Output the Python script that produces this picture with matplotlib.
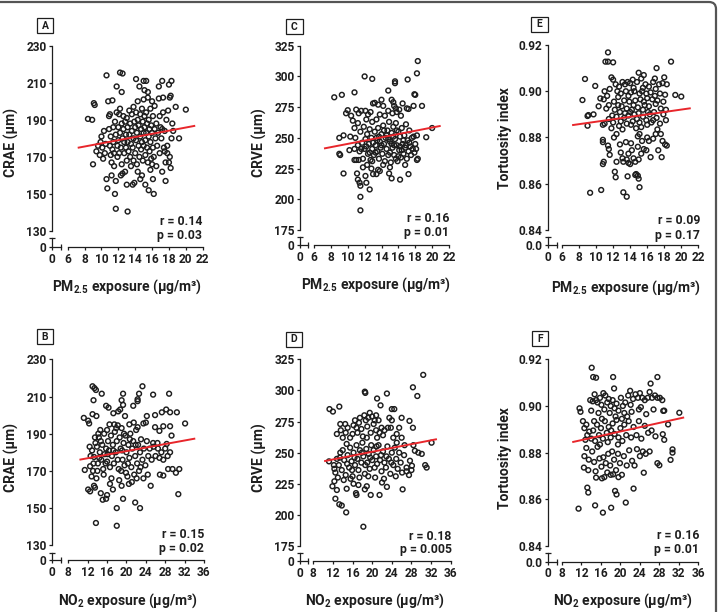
import numpy as np
import matplotlib.pyplot as plt
from matplotlib.patches import Rectangle, FancyBboxPatch
from matplotlib.transforms import IdentityTransform

FONT = "Roboto"
plt.rcParams["font.family"] = [FONT, "DejaVu Sans"]
plt.rcParams["font.weight"] = "bold"
plt.rcParams["mathtext.fontset"] = "custom"
plt.rcParams["mathtext.rm"] = FONT + ":bold"
plt.rcParams["mathtext.bf"] = FONT + ":bold"
plt.rcParams["mathtext.it"] = FONT + ":bold"
plt.rcParams["mathtext.default"] = "bf"

#%% Data
# (PM2.5 exposure, CRAE)
pm25_crae = [(8.4,190.5),(8.9,190),(9.1,199),(9.2,198),(9.0,166),(9.4,173),(9.6,176),(9.8,171),
    (9.9,178),(10.0,181),(10.1,175),(10.3,184),(10.4,172),(10.5,177),(10.6,214),(10.6,158),(10.7,153),(10.2,169),
    (10.8,200),(10.9,185),(10.9,192),(11.0,193),(11.0,176),(11.1,171),(11.1,181),(11.2,167),(11.2,160),(11.3,200.5),
    (11.3,174),(11.4,186),(11.4,178),(11.5,165),(11.5,172),(11.6,150),(11.6,189),(11.7,142),(11.7,157),(11.7,182),
    (11.8,208),(11.8,194),(11.9,176),(11.9,170),(12.0,186),(12.0,179),(12.1,193),(12.1,172),(12.2,215.5),(12.2,196),
    (12.2,183),(12.3,160),(12.3,175),(12.4,205),(12.4,188),(12.4,166),(12.5,215),(12.5,180),(12.5,161),
    (12.6,192),(12.6,185),(12.7,178),(12.7,172),(12.8,162),(12.8,189),(12.9,182),(12.9,175),(13.0,155),(13.0,191),
    (13.0,168),(13.1,140.5),(13.1,186),(13.1,178),(13.2,173),(13.3,195),(13.3,182),(13.4,170),(13.4,188),(13.5,177),
    (13.5,165),(13.6,193),(13.6,184),(13.7,155),(13.7,175),(13.8,197),(13.8,180),(13.8,168),(13.9,156),(13.9,189),
    (14.0,186),(14.0,172),(14.1,212),(14.1,194),(14.1,179),(14.2,183),(14.2,166),(14.3,200),(14.3,162),(14.3,190),
    (14.4,176),(14.4,187),(14.5,208),(14.5,170),(14.6,158),(14.6,193),(14.6,181),(14.7,185),(14.7,174),(14.8,160),
    (14.8,196),(14.8,178),(14.9,189),(14.9,168),(15.0,211),(15.0,201),(15.0,183),(15.0,176),(15.1,206),(15.1,192),
    (15.1,186),(15.2,155),(15.2,179),(15.2,171),(15.3,211),(15.3,194),(15.3,183),(15.4,188),(15.4,175),(15.5,205),
    (15.5,202),(15.5,167),(15.6,152),(15.6,190),(15.6,181),(15.7,185),(15.7,173),(15.8,163),(15.8,196),(15.8,178),
    (15.9,169),(15.9,187),(16.0,200),(16.0,183),(16.0,166),(16.1,158),(16.1,192),(16.1,175),(16.2,150),(16.2,170),
    (16.3,197.5),(16.3,185),(16.4,180),(16.5,165),(16.5,188),(16.6,176),(16.7,183),(16.8,208),(16.8,201.5),(16.9,192),
    (16.9,172),(17.0,186),(17.1,180),(17.2,211),(17.2,162),(17.2,185),(17.3,202),(17.3,194),(17.4,175),(17.5,184),
    (17.5,173),(17.6,167),(17.6,157),(17.7,190),(17.8,176),(17.8,172),(17.9,195),(18.0,209),(18.0,167),(18.1,170),
    (18.1,202),(18.2,203),(18.2,164),(18.3,211),(18.3,180),(18.4,188),(18.5,184),(18.8,197),(19.2,180),(20.0,195.5)]

# (PM2.5 exposure, CRVE)
pm25_crve = [(18.3,312.5),(18.2,302.5),(12.0,300),(12.9,298),(17.1,297.5),(15.6,294.5),(15.6,296),(14.8,288.5),
    (10.8,287),(8.4,283),(9.3,285),(17.9,285.5),(18.0,285),(18.8,276),(17.8,276),
    (9.8,270),(10.0,272.5),(10.4,268),(11.0,273),(11.3,270),(11.6,272),(12.1,272),(12.4,269),(12.7,271),(13.0,278),
    (13.2,278.5),(13.6,277),(14.0,281),(14.2,276),(14.4,268),(14.8,272),(15.2,281),(15.4,279),(15.5,276),(15.7,274),
    (15.8,271),(16.1,273),(16.5,278),(17.0,274),(17.2,273.5),(15.3,270),(16.3,268),(13.8,269),(11.2,262),(10.8,258),
    (10.6,264),(12.2,265),(12.9,263),(13.4,265),
    (9.0,250),(9.5,252),(10.3,251),(10.8,241),(10.9,250),(11.0,232),(11.2,244),(11.4,239),(11.5,255),(11.7,246),
    (11.8,233),(11.9,259),(12.0,241),(12.1,249),(12.3,253),(12.4,237),(12.5,245),(12.6,257),(12.7,232),(12.8,250),
    (12.9,241),(13.0,246),(13.1,236),(13.2,255),(13.3,244),(13.4,250),(13.5,239),(13.6,258),(13.7,233),(13.8,247),
    (13.9,242),(14.0,253),(14.1,237),(14.2,260),(14.3,245),(14.4,231),(14.5,250),(14.6,241),(14.7,256),(14.8,236),
    (14.9,263),(15.0,247),(15.1,230),(15.2,254),(15.3,242),(15.4,259),(15.5,236),(15.6,249),(15.7,262),(15.8,244),
    (15.9,231),(16.0,255),(16.1,240),(16.2,251),(16.3,234),(16.4,258),(16.5,245),(16.6,237),(16.7,252),(16.8,242),
    (16.9,261),(17.0,233),(17.1,248),(17.2,239),(17.3,256),(17.4,243),(17.5,236),(17.6,250),(17.7,241),(17.8,251),
    (17.9,238),(18.0,245),(18.2,252),(18.3,233),(18.1,241),(19.3,250.5),(20.0,258),(9.0,237),(9.1,236),
    (12.2,243),(13.5,248),(14.0,244),(14.6,252),(15.0,238),(15.2,245),(15.8,256),(16.2,243),(16.6,248),(13.3,238),
    (12.6,238),(14.8,249),(15.5,244),(16.0,235),(16.9,244),(17.3,246),(14.3,256),(13.7,251),(15.4,251),(16.4,240),
    (11.6,241),(11.3,232),(10.8,232),(10.2,240),(12.9,231),(15.7,233),
    (9.5,221),(11.1,221),(11.2,216),(11.4,213.5),(11.5,211),(11.5,202),(11.5,191),(12.1,219),(12.2,213.5),(12.6,208),
    (12.8,225),(13.0,220.5),(13.4,220.5),(13.6,224),(13.8,223),(14.9,221),(15.2,217),(16.2,216),(17.2,220.5),
    (18.2,232),(11.8,226),(12.3,228),(14.2,228),(15.0,226),(16.8,228)]

# (PM2.5 exposure, tortuosity index)
pm25_tort = [(11.4,0.9168),(11.1,0.9128),(11.4,0.9128),(12.0,0.9125),(18.8,0.9128),(8.7,0.9053),(8.4,0.8962),
    (9.9,0.9023),(10.5,0.8969),(19.3,0.8984),(20.0,0.8977),(9.0,0.8893),(9.1,0.8897),(9.7,0.890),(9.0,0.8851),
    (9.3,0.8561),(10.6,0.8573),(13.2,0.8563),(13.6,0.8544),(15.1,0.8585),(12.2,0.8652),(12.3,0.8628),(13.7,0.8632),
    (14.7,0.8642),(14.9,0.8635),(15.0,0.8622),(14.6,0.8638),
    (11.8,0.906),(12.0,0.905),(15.0,0.908),(17.1,0.910),(15.6,0.907),(12.3,0.903),(12.7,0.902),(13.1,0.904),
    (13.4,0.903),(13.7,0.904),(14.0,0.9035),(14.3,0.905),(14.8,0.904),(15.3,0.9055),(15.8,0.903),(16.2,0.902),
    (16.7,0.904),(17.0,0.901),(17.4,0.903),(17.8,0.9035),(18.0,0.906),(18.3,0.903),(11.0,0.900),(11.3,0.898),
    (11.6,0.901),(12.5,0.900),(12.9,0.899),(13.5,0.900),(14.1,0.8995),(14.5,0.900),(15.1,0.899),(15.4,0.900),
    (15.9,0.899),(16.4,0.8995),(16.9,0.898),(17.5,0.899),(18.1,0.8985),(10.9,0.8965),(11.5,0.894),(12.1,0.8955),
    (12.6,0.894),(13.3,0.896),(13.9,0.8955),(14.6,0.896),(15.2,0.8965),(15.6,0.8955),(16.0,0.897),(16.6,0.8965),
    (17.2,0.896),(17.9,0.8955),(12.2,0.892),(12.8,0.891),(13.6,0.8925),(14.2,0.892),(14.9,0.893),(15.5,0.892),
    (16.2,0.8935),(16.8,0.891),(17.6,0.8925),(18.2,0.892),(11.2,0.8925),(10.3,0.8935),
    (11.5,0.888),(11.9,0.8895),(12.4,0.889),(12.9,0.887),(13.3,0.8885),(13.8,0.8895),(14.3,0.887),(14.5,0.890),
    (14.8,0.888),(15.1,0.8865),(15.5,0.889),(15.9,0.8875),(16.3,0.890),(16.7,0.8875),(17.1,0.8885),(17.5,0.886),
    (17.9,0.890),(18.2,0.8875),(10.8,0.8855),(11.0,0.886),(12.7,0.885),(13.6,0.886),(14.1,0.8855),(15.3,0.8845),
    (16.0,0.8855),(16.5,0.8865),(17.2,0.8835),(14.7,0.884),(13.1,0.8835),(11.8,0.884),
    (10.8,0.879),(10.8,0.878),(11.4,0.8765),(11.5,0.875),(11.6,0.8725),(10.9,0.8695),(10.8,0.8685),(12.1,0.880),
    (12.4,0.8815),(12.8,0.877),(12.9,0.8735),(13.1,0.871),(13.2,0.8695),(13.5,0.878),(13.6,0.8705),(13.8,0.873),
    (13.8,0.869),(14.1,0.8775),(14.2,0.8745),(14.4,0.871),(14.6,0.8695),(14.9,0.876),(15.1,0.8815),(15.3,0.873),
    (15.6,0.875),(15.9,0.8745),(16.0,0.880),(16.2,0.8785),(16.4,0.8715),(16.7,0.8795),(17.0,0.8815),(17.3,0.8745),
    (17.6,0.8815),(17.8,0.8785),(18.1,0.877),(18.3,0.8765),(17.7,0.8715),(12.4,0.8695),(14.0,0.8685),(15.0,0.8705),
    (12.6,0.8975),(13.0,0.8935),(13.8,0.898),(14.4,0.894),(15.7,0.894),(16.1,0.891),(17.0,0.8945),(14.0,0.891),
    (15.0,0.8905),(13.4,0.8905),(16.9,0.9055),(15.5,0.9015),(14.4,0.9015),(12.0,0.8865),(14.9,0.8805),(15.4,0.8785)]

# (NO2 exposure, CRAE)
no2_crae = [(13.0,215.5),(13.4,214.5),(13.7,213.5),(23.3,215.5),(14.9,211.5),(19.3,211.5),(22.6,211.5),(25.5,211),
    (28.8,211.5),(22.3,208.5),(22.3,207.5),(13.2,208),(19.0,208),(19.3,205.5),(15.8,205),(16.3,204),(21.4,205),
    (11.2,198.5),(12.1,197),(12.3,195.5),(13.0,200.5),(13.8,199.5),(17.3,201),(18.3,202),(18.7,203),(19.7,199.5),
    (24.2,199.5),(25.9,200),(27.3,201.5),(28.2,203),(29.0,201.5),(30.4,201.5),(32.1,195.5),(27.6,194),(29.3,189),
    (29.0,194),(25.9,193.5),(24.0,196),(23.5,195.5),(21.5,196),(20.6,195),(17.5,195),(18.2,194.5),(16.0,192),
    (14.6,192),(14.2,190),(22.3,193.5),(26.8,191.5),(28.3,184.5),(26.5,182),(25.5,185),
    (12.6,178),(12.9,181),(13.3,177.5),(13.6,185),(13.9,183),(14.1,174),(14.3,188),(14.5,180),(14.8,176),(15.0,184),
    (15.2,171),(15.4,190),(15.5,179),(15.8,182),(16.0,175),(16.2,186),(16.4,181),(16.6,172),(16.8,189),(17.0,178),
    (17.2,184),(17.4,174),(17.6,191),(17.8,180),(18.0,186),(18.2,176),(18.4,171),(18.6,188),(18.8,182),(19.0,193),
    (19.2,176),(19.4,185),(19.6,173),(19.8,189),(20.0,180),(20.2,167),(20.4,184),(20.6,177),(20.8,190),(21.0,172),
    (21.2,182),(21.4,186),(21.6,168),(21.8,178),(22.0,192),(22.2,174),(22.4,184),(22.6,170),(22.8,180),(23.0,187),
    (23.3,176),(23.6,182),(23.9,173),(24.2,186),(24.5,178),(24.8,182),(25.2,176),(25.6,183),(26.0,178),(26.4,185),
    (26.8,177),(27.2,180),(27.6,176),(28.0,182),(28.5,178),(29.0,180),(29.5,171),(15.3,168),(16.9,166),(18.5,165),
    (19.9,169),(21.1,164),(22.1,166),(23.5,166),(14.0,170),(12.8,167),(13.1,170),(14.7,186),(16.5,195),(17.9,193),
    (19.5,190),(20.7,187),(13.5,188),(12.4,183),(15.7,174),(18.9,170),(20.3,174),(17.3,181),(16.1,179),(14.4,177),
    (13.2,174),(19.1,181),(21.9,184),(22.9,172),
    (11.4,170.5),(12.5,172.5),(12.1,160),(12.5,159),(13.3,162),(13.5,161),(13.8,166),(15.1,154.5),(15.8,155),
    (16.0,157),(18.0,150),(19.3,155),(21.8,153),(22.8,150),(25.0,162),(30.2,169),(30.7,157.5),(30.9,171),
    (13.7,142),(18.0,140.5),(26.9,168),(27.6,167.5),(28.6,171),(17.2,160),(19.0,162),(20.5,163),(24.4,168),
    (16.6,163),(14.7,158)]

# (NO2 exposure, CRVE)
no2_crve = [(30.4,312.5),(28.3,302.5),(29.2,295.5),(18.5,299),(18.6,298),(23.0,297.5),(21.0,293.5),(24.0,285),
    (24.5,285),(21.7,288),(26.0,278),(27.6,275.5),(28.3,270),(11.3,285),(12.0,283),(13.3,287),
    (13.5,273),(13.6,268),(14.5,273),(14.6,266),(15.0,270),(15.5,262),(16.0,265),(16.5,276),(16.8,270),(17.0,266),
    (17.3,274),(17.5,278),(17.8,269),(18.1,263),(18.4,280),(18.7,276),(19.0,271),(19.2,278),(19.5,282),(19.7,266),
    (20.0,279),(20.3,273),(20.5,276),(20.8,268),(21.0,262),(21.3,276),(21.5,266),(21.9,270),(22.2,264),(22.5,268),
    (23.2,270),(23.5,278),(23.8,270),(24.3,262),(24.0,276),(25.0,265),(25.5,270),(26.0,262),(12.8,265),(14.0,262),
    (16.2,272),(18.9,262),(20.8,280),
    (11.2,243),(12.3,237),(12.5,234),(12.8,245),(13.2,240),(13.5,250),(13.8,236),(14.0,252),(14.3,244),(14.6,232),
    (14.8,257),(15.0,248),(15.3,238),(15.5,254),(15.8,243),(16.0,231),(16.2,250),(16.5,240),(16.8,256),(17.0,245),
    (17.2,236),(17.5,252),(17.8,242),(18.0,258),(18.2,247),(18.5,233),(18.8,253),(19.0,242),(19.3,249),(19.5,237),
    (19.8,256),(20.0,244),(20.3,252),(20.5,238),(20.8,247),(21.0,241),(21.3,256),(21.6,244),(21.9,235),(22.2,251),
    (22.5,242),(22.8,238),(23.1,255),(23.4,245),(23.7,233),(24.0,250),(24.3,240),(24.6,254),(24.9,245),(25.2,237),
    (25.5,250),(25.8,242),(26.1,234),(26.5,248),(27.0,238),(27.5,232),(28.0,236),(28.4,256),(28.7,251.5),(29.4,250),
    (30.1,249),(27.7,243.5),(28.1,239.5),(27.0,235),(30.8,240),(31.1,238),(32.1,258),(13.0,230),(14.2,228),
    (15.6,229),(17.4,230),(19.2,231),(20.6,230),(22.4,229),(24.8,231),(16.4,246),(17.9,250),(19.6,246),(21.8,248),
    (14.9,241),(13.4,246),(18.6,240),(20.9,255),(22.9,247),(23.9,242),(15.9,236),(12.2,240),(26.6,256),(25.0,258),
    (12.3,227),(12.8,220),(13.3,208.5),(13.8,207.5),(14.7,202),(14.8,221),(16.7,217.5),(16.8,216),(18.5,220.5),
    (18.9,223),(19.7,216),(21.5,216),(18.2,190.5),(23.0,222.5),(26.2,220.5),(12.5,213),(11.9,223),(16.2,225),
    (17.2,224),(22.0,226)]

# (NO2 exposure, tortuosity index)
no2_tort = [(14.1,0.9164),(14.4,0.9124),(15.0,0.9121),(18.5,0.9124),(27.6,0.9124),(26.2,0.9096),(18.7,0.9075),
    (22.0,0.9065),(11.6,0.899),(11.8,0.8975),(11.4,0.856),(14.8,0.8574),(16.4,0.8543),(18.1,0.8564),(21.1,0.8586),
    (13.2,0.865),(13.4,0.8629),(22.7,0.8646),(18.9,0.8636),(19.2,0.8621),(12.5,0.8736),(15.0,0.8693),(16.2,0.869),
    (18.5,0.8707),(30.7,0.8814),(30.7,0.880),(30.3,0.8769),(28.0,0.8746),(24.8,0.8714),(28.7,0.8879),(29.8,0.8921),
    (32.1,0.8971),(28.8,0.8979),(12.3,0.8935),(12.6,0.8905),(13.0,0.892),
    (13.8,0.9025),(14.3,0.902),(14.7,0.905),(15.0,0.9025),(15.3,0.9015),(15.8,0.9035),(16.1,0.9005),(16.5,0.9055),
    (16.9,0.9045),(17.3,0.9015),(17.6,0.903),(18.0,0.900),(18.4,0.9025),(18.8,0.899),(19.2,0.901),(19.6,0.898),
    (20.1,0.9035),(20.5,0.900),(21.0,0.9015),(21.6,0.9045),(22.1,0.9005),(22.6,0.903),(23.1,0.905),(23.6,0.9035),
    (24.0,0.9055),(24.5,0.9035),(25.0,0.9025),(25.6,0.9035),(26.0,0.906),(26.5,0.9035),(27.1,0.9045),(27.6,0.9035),
    (28.1,0.9035),(28.6,0.9025),(29.0,0.898),(14.0,0.898),(15.5,0.897),(16.7,0.8985),(17.8,0.897),(19.0,0.8955),
    (20.8,0.897),(22.3,0.8975),(23.8,0.8985),(25.3,0.8965),(26.8,0.8985),(24.2,0.8995),(21.4,0.8955),
    (12.8,0.8855),(13.2,0.8875),(13.6,0.889),(14.0,0.886),(14.4,0.8895),(14.8,0.885),(15.2,0.892),(15.6,0.8875),
    (16.0,0.8905),(16.4,0.886),(16.8,0.8935),(17.2,0.8885),(17.6,0.891),(18.0,0.8865),(18.4,0.8925),(18.8,0.888),
    (19.2,0.894),(19.6,0.8865),(20.0,0.8905),(20.4,0.885),(20.8,0.892),(21.2,0.8875),(21.7,0.8935),(22.2,0.8865),
    (22.7,0.891),(23.3,0.8875),(23.8,0.8935),(24.3,0.886),(25.0,0.8915),(25.7,0.8885),(26.4,0.8895),(27.2,0.887),
    (29.0,0.8855),(15.8,0.8835),(17.4,0.8845),(19.5,0.8835),(14.6,0.8935),(18.1,0.8895),(16.2,0.8945),(20.3,0.8945),
    (12.6,0.8785),(13.0,0.882),(13.5,0.877),(14.2,0.8805),(14.6,0.876),(15.3,0.8825),(15.7,0.8775),(16.1,0.874),
    (16.5,0.878),(17.0,0.8755),(17.5,0.8795),(17.9,0.8745),(18.3,0.8805),(18.7,0.877),(19.1,0.8725),(19.5,0.8795),
    (19.9,0.8755),(20.3,0.8705),(20.7,0.8785),(21.3,0.8745),(21.8,0.881),(22.4,0.8765),(22.9,0.8745),(23.4,0.8815),
    (24.0,0.8785),(24.6,0.8805),(25.2,0.8795),(26.0,0.8805),(27.6,0.8755),(18.0,0.8705),(19.6,0.8695),(17.3,0.8715),
    (14.9,0.872),(16.7,0.8695),(13.4,0.8725)]

# regression lines (x0, x1), (y0, y1)
fit_a = ([7.3, 21.0], [175.0, 186.7])
fit_c = ([7.3, 20.9], [241.5, 259.6])
fit_e = ([7.3, 21.0], [0.8854, 0.8926])
fit_b = ([10.5, 34.0], [176.1, 187.3])
fit_d = ([10.4, 33.0], [243.3, 260.7])
fit_f = ([10.3, 32.9], [0.8846, 0.8950])

stats = {"A": ("r = 0.14", "p = 0.03"), "C": ("r = 0.16", "p = 0.01"), "E": ("r = 0.09", "p = 0.17"),
         "B": ("r = 0.15", "p = 0.02"), "D": ("r = 0.18", "p = 0.005"), "F": ("r = 0.16", "p = 0.01")}

pm_ticks = [6, 8, 10, 12, 14, 16, 18, 20, 22]
no2_ticks = [8, 12, 16, 20, 24, 28, 32, 36]
crae_ticks = [130, 150, 170, 190, 210, 230]
crve_ticks = [175, 200, 225, 250, 275, 300, 325]
tort_ticks = [0.84, 0.86, 0.88, 0.90, 0.92]

#%% Layout (pixels of a 719x612 canvas)
W, H = 719, 612
INK = "#1e1e1e"
RED = "#e8262b"
BOLD = "bold"
TICK_FS = 8.6
LABEL_FS = 10
STAT_FS = 8.8

fig = plt.figure(figsize=(W / 100, H / 100), dpi=100)

def fbox(l, t, r, b):
    return [l / W, 1 - b / H, (r - l) / W, (b - t) / H]

def style_ticks(a):
    a.tick_params(length=2.5, width=0.9, color=INK, labelsize=TICK_FS, labelcolor=INK, pad=1.5)
    for lbl in a.get_xticklabels() + a.get_yticklabels():
        lbl.set_fontweight(BOLD)

def panel(g, pts, fit, xt, yt, yfmt, stub, letter, ylab, xlab):
    # g: y-axis x, first/last x tick, top/bottom y tick, zero line, stub ends
    yax, xs, xe, ytop, ybot, y0, sx, sy = g["ax"]
    x, y = np.array(pts).T
    ax = fig.add_axes(fbox(xs, ytop, xe, ybot))
    ax.set_facecolor("none")
    ax.set_xlim(xt[0], xt[-1])
    ax.set_ylim(yt[0], yt[-1])
    ax.scatter(x, y, s=12, facecolors="none", edgecolors=INK, linewidths=1.05, zorder=2, clip_on=False)
    ax.plot(fit[0], fit[1], color=RED, lw=1.4, zorder=3, clip_on=False)
    for s in ["top", "right"]:
        ax.spines[s].set_visible(False)
    ax.spines["left"].set_position(("outward", (xs - yax) * 0.72))
    ax.spines["bottom"].set_position(("outward", (y0 - ybot) * 0.72))
    for s in ["left", "bottom"]:
        ax.spines[s].set_color(INK)
        ax.spines[s].set_linewidth(0.9)
    ax.set_xticks(xt)
    ax.set_yticks(yt)
    ax.set_yticklabels([yfmt.format(v) for v in yt])
    style_ticks(ax)

    # short stub of both axes near zero, with break marks
    a0 = fig.add_axes(fbox(yax, sy, sx, y0))
    a0.set_facecolor("none")
    a0.set_xlim(0, 1)
    a0.set_ylim(0, 1)
    for s in ["top", "right"]:
        a0.spines[s].set_visible(False)
    for s in ["left", "bottom"]:
        a0.spines[s].set_color(INK)
        a0.spines[s].set_linewidth(0.9)
    a0.set_xticks([0])
    a0.set_xticklabels(["0"])
    a0.set_yticks([0])
    a0.set_yticklabels([stub])
    a0.set_xticks([1], minor=True)
    a0.set_yticks([1], minor=True)
    style_ticks(a0)
    a0.tick_params(which="minor", direction="inout", length=4.5, width=0.9, color=INK)

    lx, ly = g["letter"]
    fig.add_artist(Rectangle(((lx - 8.3) / W, 1 - (ly + 7.5) / H), 16.6 / W, 15 / H,
                             transform=fig.transFigure, fill=False, ec=INK, lw=0.9))
    fig.text(lx / W, 1 - ly / H, letter, ha="center", va="center", fontsize=7.5, color=INK, fontweight=BOLD)

    yx, yy = g["ylab"]
    fig.text(yx / W, 1 - yy / H, ylab, rotation=90, ha="center", va="center", fontsize=LABEL_FS,
             color=INK, fontweight=BOLD)
    xx, xy = g["xlab"]
    fig.text(xx / W, 1 - xy / H, xlab, ha="center", va="center", fontsize=LABEL_FS, color=INK,
             fontweight=BOLD)

    rx, r1, r2 = g["stat"]
    fig.text(rx / W, 1 - r1 / H, stats[letter][0], ha="right", va="center", fontsize=STAT_FS, color=INK,
             fontweight=BOLD)
    fig.text(rx / W, 1 - r2 / H, stats[letter][1], ha="right", va="center", fontsize=STAT_FS, color=INK,
             fontweight=BOLD)

geo = {
    "A": {"ax": (52.3, 67.7, 202.7, 45.7, 231, 247, 61, 238.3), "letter": (45, 25.8),
          "ylab": (11, 142), "xlab": (127, 287), "stat": (202, 221, 235)},
    "C": {"ax": (300.3, 314, 449, 45.7, 230, 245, 308.3, 236.7), "letter": (294.3, 26.8),
          "ylab": (259, 143), "xlab": (376, 285), "stat": (449.5, 218.5, 232.5)},
    "E": {"ax": (548.3, 562, 698.3, 45, 230, 245, 556.7, 237.3), "letter": (539.2, 24.2),
          "ylab": (505, 138), "xlab": (626, 287.3), "stat": (700, 220.7, 235)},
    "B": {"ax": (52.3, 68.3, 204, 359.3, 545.3, 560.3, 61, 552.7), "letter": (45, 336.5),
          "ylab": (11, 457.7), "xlab": (128.3, 601), "stat": (204, 535, 548.3)},
    "D": {"ax": (300.3, 313.3, 450.7, 359.3, 546, 561.3, 308.3, 553.3), "letter": (293.8, 339.3),
          "ylab": (259.5, 457.7), "xlab": (375, 601), "stat": (451.7, 536, 550)},
    "F": {"ax": (548.3, 562, 698.3, 359.3, 546, 561.7, 556.7, 553.3), "letter": (540, 338.5),
          "ylab": (505, 457.7), "xlab": (623.3, 601), "stat": (699.3, 535.3, 549.3)},
}

pm_lab = r"PM$_{2.5}$ exposure (µg/m³)"
no2_lab = r"NO$_2$ exposure (µg/m³)"
panel(geo["A"], pm25_crae, fit_a, pm_ticks, crae_ticks, "{:.0f}", "0", "A", "CRAE (µm)", pm_lab)
panel(geo["C"], pm25_crve, fit_c, pm_ticks, crve_ticks, "{:.0f}", "0", "C", "CRVE (µm)", pm_lab)
panel(geo["E"], pm25_tort, fit_e, pm_ticks, tort_ticks, "{:.2f}", "0.0", "E", "Tortuosity index", pm_lab)
panel(geo["B"], no2_crae, fit_b, no2_ticks, crae_ticks, "{:.0f}", "0", "B", "CRAE (µm)", no2_lab)
panel(geo["D"], no2_crve, fit_d, no2_ticks, crve_ticks, "{:.0f}", "0", "D", "CRVE (µm)", no2_lab)
panel(geo["F"], no2_tort, fit_f, no2_ticks, tort_ticks, "{:.2f}", "0.0", "F", "Tortuosity index", no2_lab)

# outer frame: only the top edge and right edge fall inside the image
frame = FancyBboxPatch((-20, -20), 736, H - 2 + 20, boxstyle="round,pad=0,rounding_size=7",
                       transform=IdentityTransform(), fill=False, ec="#555555", lw=1.6)
fig.add_artist(frame)

fig.savefig("out.png", dpi=100)
